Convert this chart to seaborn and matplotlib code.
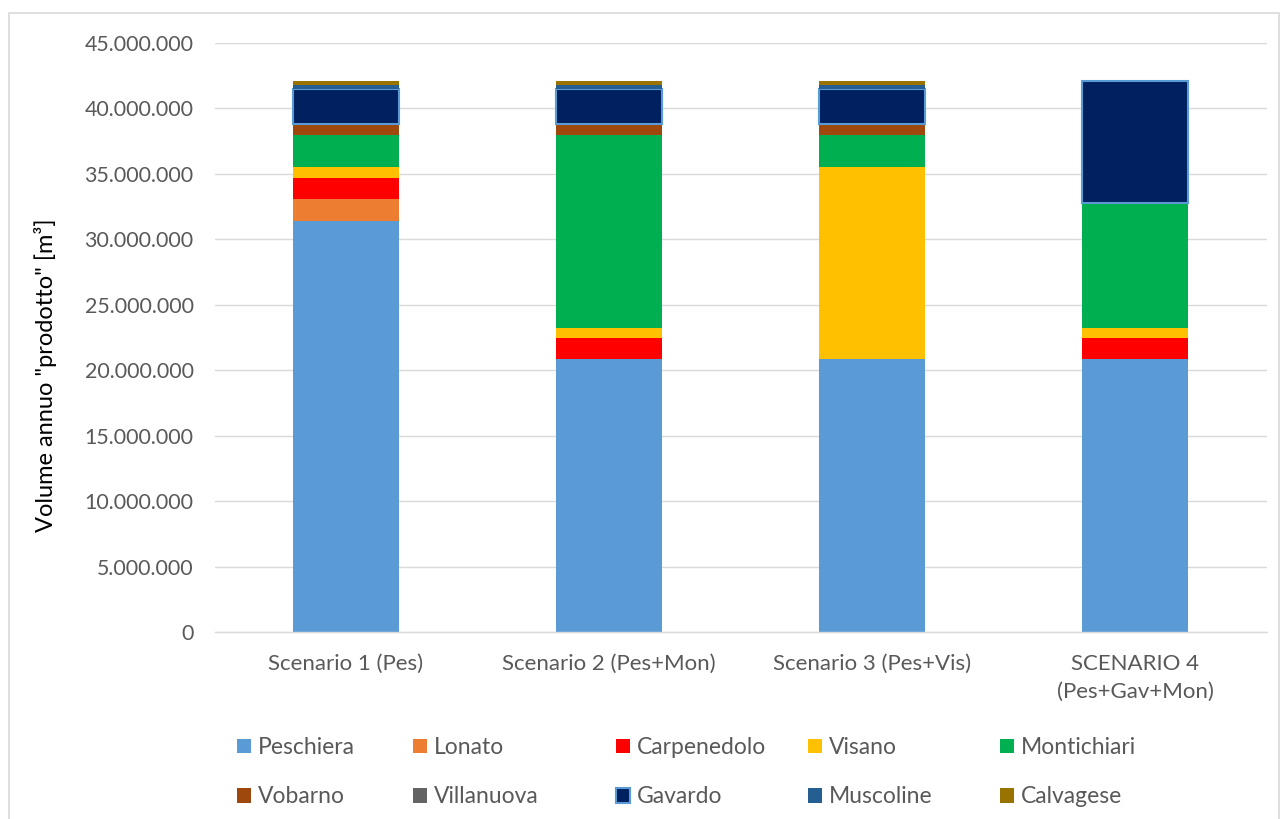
import numpy as np
import pandas as pd
import seaborn as sns
import matplotlib.pyplot as plt
from matplotlib.patches import Patch, Rectangle
from matplotlib.ticker import FuncFormatter

# Scenarios and annual produced volume per source [m3]
scenarios = ["Scenario 1 (Pes)", "Scenario 2 (Pes+Mon)", "Scenario 3 (Pes+Vis)", "SCENARIO 4\n(Pes+Gav+Mon)"]
series = ["Peschiera", "Lonato", "Carpenedolo", "Visano", "Montichiari",
          "Vobarno", "Villanuova", "Gavardo", "Muscoline", "Calvagese"]

peschiera   = [31_400_000, 20_860_000, 20_860_000, 20_860_000]
lonato      = [1_680_000, 0, 0, 0]
carpenedolo = [1_600_000, 1_600_000, 0, 1_600_000]
visano      = [820_000, 760_000, 14_660_000, 760_000]
montichiari = [2_470_000, 14_750_000, 2_450_000, 9_580_000]
vobarno     = [830_000, 830_000, 830_000, 0]
villanuova  = [0, 0, 0, 0]
gavardo     = [2_660_000, 2_660_000, 2_660_000, 9_300_000]
muscoline   = [300_000, 300_000, 300_000, 0]
calvagese   = [300_000, 300_000, 300_000, 0]

values = [peschiera, lonato, carpenedolo, visano, montichiari,
          vobarno, villanuova, gavardo, muscoline, calvagese]
colors = ["#5B9BD5", "#ED7D31", "#FF0000", "#FFC000", "#00B050",
          "#9E480E", "#636363", "#002060", "#255E91", "#997300"]

sns.set_theme(style="white")
plt.rcParams["font.family"] = ["Lato", "DejaVu Sans"]

W, H = 1284, 819
fig = plt.figure(figsize=(W / 100, H / 100), dpi=100)
ax = fig.add_axes([214.5 / W, 1 - 632 / H, 1052 / W, 589 / H])

bottom = np.zeros(len(scenarios))
for name, vals, col in zip(series, values, colors):
    df = pd.DataFrame({"scenario": scenarios, "volume": vals})
    edge = "#5B9BD5" if name == "Gavardo" else "none"
    lw = 1.5 if name == "Gavardo" else 0
    sns.barplot(data=df, x="scenario", y="volume", color=col, saturation=1,
                errorbar=None, width=0.4, bottom=bottom, ax=ax,
                edgecolor=edge, linewidth=lw)
    bottom += np.array(vals, dtype=float)

ax.set_xlim(-0.5, 3.5)
ax.set_ylim(0, 45_000_000)
ax.set_yticks(np.arange(0, 45_000_001, 5_000_000))
ax.yaxis.set_major_formatter(FuncFormatter(lambda v, p: f"{int(v):,}".replace(",", ".")))
ax.grid(axis="y", color="#D9D9D9", linewidth=1)
ax.set_axisbelow(True)
for s in ["top", "right", "left"]:
    ax.spines[s].set_visible(False)
ax.spines["bottom"].set_color("#D9D9D9")
ax.spines["bottom"].set_linewidth(1)
ax.tick_params(axis="y", length=0, pad=15, labelsize=15.4, labelcolor="#595959")
ax.tick_params(axis="x", length=0, pad=16, labelsize=16, labelcolor="#595959")
for lab in ax.get_xticklabels():
    lab.set_linespacing(1.45)
ax.set_xlabel("")
ax.set_ylabel("")
fig.text(46 / W, 1 - 375 / H, 'Volume annuo "prodotto" [m³]', rotation=90,
         ha="center", va="center", fontsize=17, color="#000000")

# Legend: five columns of two entries
col_x = [237, 413, 616, 808, 1000]
for c in range(5):
    hs, ls = [], []
    for r in range(2):
        i = r * 5 + c
        if series[i] == "Gavardo":
            h = Patch(facecolor=colors[i], edgecolor="#5B9BD5", linewidth=1.5)
        else:
            h = Patch(facecolor=colors[i], edgecolor="none")
        hs.append(h)
        ls.append(series[i])
    fig.legend(hs, ls, loc="upper left", bbox_to_anchor=(col_x[c] / W, 1 - 737 / H),
               frameon=False, fontsize=16.5, labelcolor="#595959",
               handlelength=0.6, handleheight=0.6, handletextpad=0.3,
               labelspacing=1.24, borderpad=0, borderaxespad=0)

# Chart area border
fig.add_artist(Rectangle((9 / W, -0.05), 1270 / W, 1 - 13 / H + 0.05,
                         transform=fig.transFigure, fill=False,
                         edgecolor="#D9D9D9", linewidth=1.2))

fig.savefig("out.png", dpi=100)
